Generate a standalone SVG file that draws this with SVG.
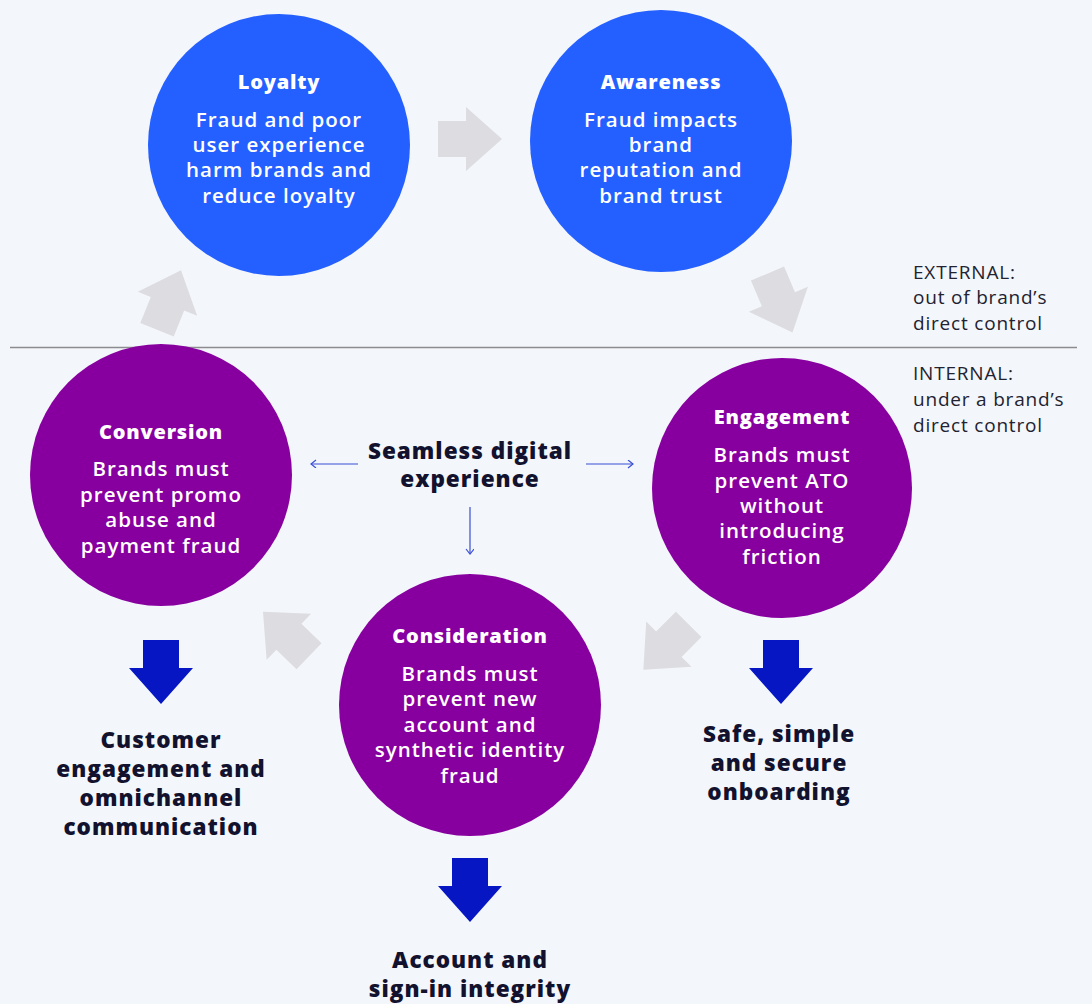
<svg xmlns="http://www.w3.org/2000/svg" width="1092" height="1004" viewBox="0 0 1092 1004">
<style>
.bg{fill:#f3f6fa}
.ext{fill:#245fff}
.int{fill:#87009f}
.t{font-family:"Open Sans","Noto Sans","Liberation Sans",sans-serif;fill:#fff;text-anchor:middle}
.ti{font-size:20px;font-weight:800;letter-spacing:0.8px}
.bd{font-size:20.5px;font-weight:600;letter-spacing:1px}
.lbl{font-family:"Open Sans","Noto Sans","Liberation Sans",sans-serif;fill:#12122e;text-anchor:middle;font-size:22.5px;font-weight:800;letter-spacing:1px}
.side{font-family:"Open Sans","Noto Sans","Liberation Sans",sans-serif;fill:#222230;font-size:19px;letter-spacing:0.8px}
.garrow{fill:#dcdce1}
.barrow{fill:#0516c2}
.conn{stroke:#3a4fd6;stroke-width:1.2;fill:none}
</style>
<defs>
<polygon id="arr" points="-32,-18 -4,-18 -4,-32 32,0 -4,32 -4,18 -32,18"/>
<marker id="ch" markerWidth="10" markerHeight="10" refX="6" refY="4" orient="auto" markerUnits="userSpaceOnUse">
<path d="M1,0 L6,4 L1,8" stroke="#3a4fd6" stroke-width="1.2" fill="none"/>
</marker>
</defs>
<rect class="bg" x="0" y="0" width="1092" height="1004"/>
<line x1="10" y1="347.5" x2="1077" y2="347.5" stroke="#8a8c90" stroke-width="1.5"/>

<g id="connectors">
<use href="#arr" class="garrow" transform="translate(470,139)"/>
<use href="#arr" class="garrow" transform="translate(780,303) rotate(67)"/>
<use href="#arr" class="garrow" transform="translate(666,647) rotate(135)"/>
<use href="#arr" class="garrow" transform="translate(286,634) rotate(-136)"/>
<use href="#arr" class="garrow" transform="translate(169,300) rotate(-68)"/>
<use href="#arr" class="barrow" transform="translate(161,672) rotate(90)"/>
<use href="#arr" class="barrow" transform="translate(781,672) rotate(90)"/>
<use href="#arr" class="barrow" transform="translate(470,890) rotate(90)"/>
<line class="conn" x1="358" y1="464" x2="311" y2="464" marker-end="url(#ch)"/>
<line class="conn" x1="586" y1="464" x2="633" y2="464" marker-end="url(#ch)"/>
<line class="conn" x1="470" y1="507" x2="470" y2="554" marker-end="url(#ch)"/>
</g>

<g id="loyalty">
<circle class="ext" cx="279" cy="145" r="131"/>
<text class="t ti" x="279" y="89">Loyalty</text>
<text class="t bd" x="279" y="127">Fraud and poor</text>
<text class="t bd" x="279" y="152">user experience</text>
<text class="t bd" x="279" y="177">harm brands and</text>
<text class="t bd" x="279" y="203">reduce loyalty</text>
</g>

<g id="awareness">
<circle class="ext" cx="661" cy="141" r="131"/>
<text class="t ti" x="661" y="89">Awareness</text>
<text class="t bd" x="661" y="127">Fraud impacts</text>
<text class="t bd" x="661" y="152">brand</text>
<text class="t bd" x="661" y="177">reputation and</text>
<text class="t bd" x="661" y="203">brand trust</text>
</g>

<g id="engagement">
<circle class="int" cx="782" cy="488" r="130"/>
<text class="t ti" x="782" y="424">Engagement</text>
<text class="t bd" x="782" y="462">Brands must</text>
<text class="t bd" x="782" y="488">prevent ATO</text>
<text class="t bd" x="782" y="513">without</text>
<text class="t bd" x="782" y="538">introducing</text>
<text class="t bd" x="782" y="564">friction</text>
</g>

<g id="conversion">
<circle class="int" cx="161" cy="475" r="131"/>
<text class="t ti" x="161" y="439">Conversion</text>
<text class="t bd" x="161" y="476">Brands must</text>
<text class="t bd" x="161" y="502">prevent promo</text>
<text class="t bd" x="161" y="527">abuse and</text>
<text class="t bd" x="161" y="553">payment fraud</text>
</g>

<g id="consideration">
<circle class="int" cx="470" cy="705" r="131"/>
<text class="t ti" x="470" y="643">Consideration</text>
<text class="t bd" x="470" y="681">Brands must</text>
<text class="t bd" x="470" y="706">prevent new</text>
<text class="t bd" x="470" y="732">account and</text>
<text class="t bd" x="470" y="757">synthetic identity</text>
<text class="t bd" x="470" y="783">fraud</text>
</g>

<g id="center-label">
<text class="lbl" x="470" y="459">Seamless digital</text>
<text class="lbl" x="470" y="487">experience</text>
</g>

<g id="out-customer">
<text class="lbl" x="161" y="748">Customer</text>
<text class="lbl" x="161" y="777">engagement and</text>
<text class="lbl" x="161" y="806">omnichannel</text>
<text class="lbl" x="161" y="835">communication</text>
</g>

<g id="out-onboarding">
<text class="lbl" x="779" y="742">Safe, simple</text>
<text class="lbl" x="779" y="771">and secure</text>
<text class="lbl" x="779" y="800">onboarding</text>
</g>

<g id="out-account">
<text class="lbl" x="470" y="968">Account and</text>
<text class="lbl" x="470" y="997">sign-in integrity</text>
</g>

<g id="zone-labels">
<text class="side" x="913" y="279">EXTERNAL:</text>
<text class="side" x="913" y="304">out of brand’s</text>
<text class="side" x="913" y="330">direct control</text>
<text class="side" x="913" y="380">INTERNAL:</text>
<text class="side" x="913" y="406">under a brand’s</text>
<text class="side" x="913" y="432">direct control</text>
</g>
</svg>
